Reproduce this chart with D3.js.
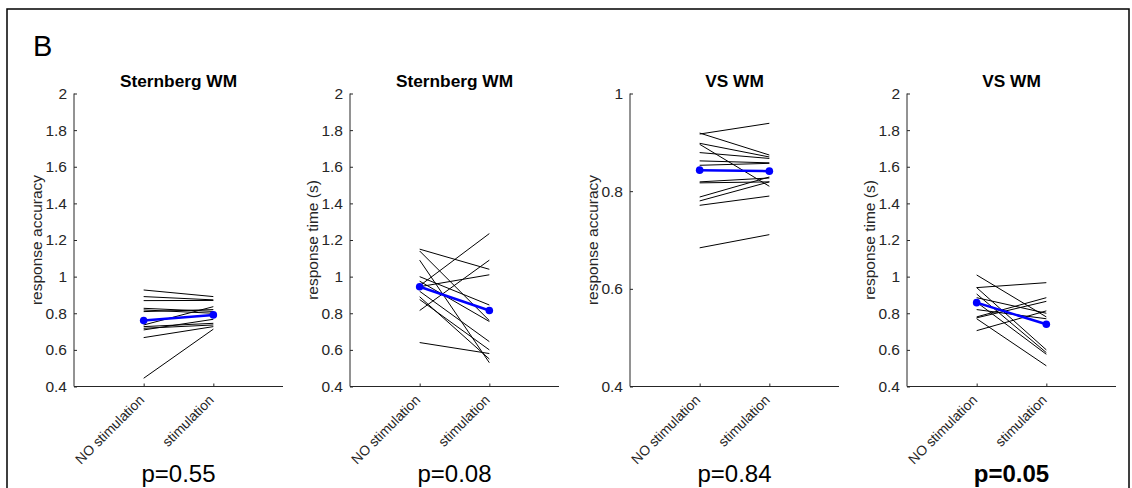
<!DOCTYPE html>
<html lang="en">
<head>
<meta charset="UTF-8">
<title>Stimulation panels</title>
<script src="https://d3js.org/d3.v7.min.js"></script>
<style>
    body { margin: 0; background: #fff; }
    svg { display: block; font-family: "Liberation Sans", Arial, sans-serif; }
    .tick text { fill: #262626; }
</style>
</head>
<body>
<svg id="canvas" width="1132" height="488"></svg>
<script>
// conditions on the x axis
const conditions = ["NO stimulation", "stimulation"];

// panel titles, y labels, p values
const titles = ["Sternberg WM", "Sternberg WM", "VS WM", "VS WM"];
const yLabels = ["response accuracy", "response time (s)", "response accuracy", "response time (s)"];
const pValues = ["p=0.55", "p=0.08", "p=0.84", "p=0.05"];
const yDomains = [[0.4, 2], [0.4, 2], [0.4, 1], [0.4, 2]];

// per-subject values [NO stimulation, stimulation]
const sternAcc = [
    [0.927, 0.891], [0.891, 0.873], [0.869, 0.870], [0.827, 0.810],
    [0.818, 0.800], [0.809, 0.820], [0.736, 0.836], [0.727, 0.745],
    [0.718, 0.736], [0.709, 0.767], [0.667, 0.727], [0.445, 0.713]
];
const sternRT = [
    [1.150, 1.040], [1.140, 0.760], [1.090, 0.530], [1.000, 0.845],
    [0.975, 0.755], [0.950, 1.235], [0.945, 1.010], [0.920, 0.645],
    [0.890, 0.550], [0.875, 0.600], [0.815, 1.090], [0.640, 0.580]
];
const vsAcc = [
    [0.917, 0.939], [0.919, 0.874], [0.898, 0.870], [0.896, 0.810],
    [0.879, 0.867], [0.862, 0.858], [0.853, 0.857], [0.819, 0.827],
    [0.817, 0.819], [0.788, 0.829], [0.780, 0.819], [0.771, 0.790],
    [0.684, 0.711]
];
const vsRT = [
    [1.009, 0.780], [0.940, 0.967], [0.940, 0.600], [0.905, 0.585],
    [0.885, 0.800], [0.860, 0.576], [0.820, 0.770], [0.780, 0.885],
    [0.775, 0.865], [0.770, 0.513], [0.705, 0.813]
];
// group means (blue)
const means = [[0.760, 0.791], [0.945, 0.815], [0.843, 0.841], [0.858, 0.740]];

const subjects = [sternAcc, sternRT, vsAcc, vsRT];

let svg = d3.select("svg");
const ink = "#262626";

// figure frame
svg.append("rect").attr("x", 7).attr("y", 9).attr("width", 1122).attr("height", 520)
    .attr("fill", "none").attr("stroke", "#000").attr("stroke-width", 1.5);

svg.append("text").attr("x", 33).attr("y", 56).attr("font-size", 29).text("B");

const lefts = [74, 350, 630, 907];
const plotW = 209, plotTop = 93.5, plotBottom = 386.5;

lefts.forEach(function (left, k) {
    let g = svg.append("g");
    let x = d3.scaleLinear().domain([0, 3]).range([left, left + plotW]);
    let y = d3.scaleLinear().domain(yDomains[k]).range([plotBottom, plotTop]);
    let ticks = d3.range(yDomains[k][0], yDomains[k][1] + 0.001, 0.2).map(v => +v.toFixed(1));

    // y axis, ticks pointing inside
    let yAxis = g.append("g").attr("transform", "translate(" + left + ",0)")
        .call(d3.axisLeft(y).tickValues(ticks).tickSize(-3).tickPadding(7).tickFormat(d3.format("")));
    yAxis.select(".domain").attr("d", "M0," + plotTop + "V" + plotBottom).attr("stroke", ink);
    yAxis.selectAll(".tick line").attr("stroke", ink);
    yAxis.selectAll("text").attr("font-size", 15.5);

    // x axis
    let xAxis = g.append("g").attr("transform", "translate(0," + plotBottom + ")")
        .call(d3.axisBottom(x).tickValues([1, 2]).tickSize(-3).tickFormat(""));
    xAxis.select(".domain").attr("d", "M" + left + ",0H" + (left + plotW)).attr("stroke", ink);
    xAxis.selectAll(".tick line").attr("stroke", ink);

    conditions.forEach(function (c, i) {
        g.append("text")
            .attr("transform", "translate(" + (x(i + 1) - 2) + "," + (plotBottom + 11) + ") rotate(-45)")
            .attr("text-anchor", "end").attr("dy", "0.35em")
            .attr("font-size", 13.8).attr("fill", ink).text(c);
    });

    // subject lines
    let line = d3.line().x((d, i) => x(i + 1)).y(d => y(d));
    g.selectAll("path.subj").data(subjects[k]).enter().append("path")
        .attr("class", "subj").attr("d", line)
        .attr("fill", "none").attr("stroke", "#000").attr("stroke-width", 1);

    // mean
    g.append("path").attr("d", line(means[k]))
        .attr("fill", "none").attr("stroke", "#0000ff").attr("stroke-width", 2.5);
    g.selectAll("circle").data(means[k]).enter().append("circle")
        .attr("cx", (d, i) => x(i + 1)).attr("cy", d => y(d)).attr("r", 3.8).attr("fill", "#0000ff");

    // title
    g.append("text").attr("x", left + plotW / 2).attr("y", 87)
        .attr("text-anchor", "middle").attr("font-size", 17.3).attr("font-weight", "bold")
        .text(titles[k]);

    // y label
    g.append("text")
        .attr("transform", "translate(" + (left - 37) + "," + ((plotTop + plotBottom) / 2) + ") rotate(-90)")
        .attr("text-anchor", "middle").attr("dy", "0.35em").attr("font-size", 15.5).attr("fill", ink)
        .text(yLabels[k]);

    // p value
    g.append("text").attr("x", left + plotW / 2).attr("y", 482)
        .attr("text-anchor", "middle").attr("font-size", 24)
        .attr("font-weight", k === 3 ? "bold" : "normal")
        .text(pValues[k]);
});
</script>
</body>
</html>
